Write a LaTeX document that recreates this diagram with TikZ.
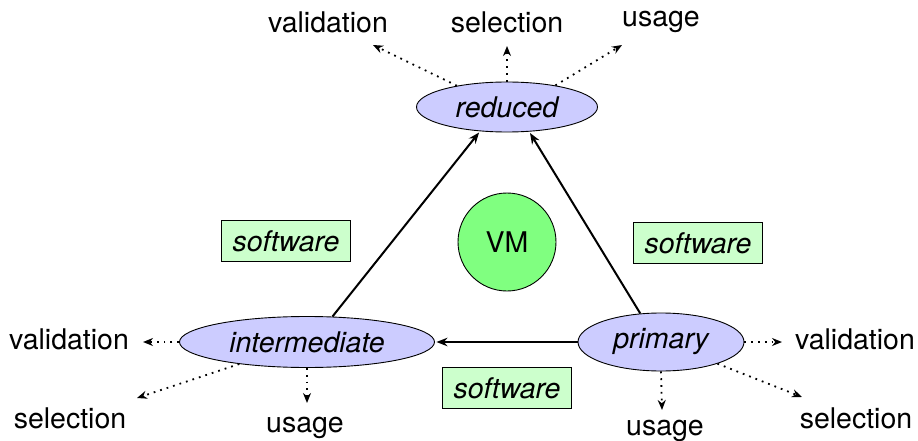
\documentclass[tikz,border=0pt]{standalone}
\usepackage{fontspec}
\setmainfont{TeX Gyre Heros}
\usetikzlibrary{shapes.geometric,arrows.meta}
\definecolor{stagefill}{RGB}{204,204,255}
\definecolor{toolfill}{RGB}{204,255,204}
\definecolor{vmfill}{RGB}{128,255,128}
\begin{document}
\begin{tikzpicture}[x=1pt,y=-1pt,
  txt/.style={font=\fontsize{28.5}{32}\selectfont},
  stage/.style={ellipse,draw,line width=0.9pt,fill=stagefill,inner sep=0pt,
    font=\fontsize{28.5}{32}\selectfont\itshape},
  tool/.style={rectangle,draw,line width=0.9pt,fill=toolfill,minimum width=129pt,
    minimum height=41pt,inner sep=0pt,font=\fontsize{28.5}{32}\selectfont\itshape},
  vm/.style={circle,draw,line width=0.9pt,fill=vmfill,minimum size=98pt,inner sep=0pt,
    font=\fontsize{28.5}{32}\selectfont},
  use/.style={txt,anchor=base,inner sep=0pt},
  flow/.style={line width=2pt,shorten >=1.5pt,-{Stealth[length=11pt,width=8.5pt]}},
  aux/.style={line width=1.8pt,dash pattern=on 1.8pt off 5pt,
    -{Stealth[length=10pt,width=8pt]}}]
\useasboundingbox (0,0) rectangle (918,441);

% the three stages
\node[stage,minimum width=181pt,minimum height=50pt] (red) at (507,107) {reduced};
\node[stage,minimum width=255pt,minimum height=51pt] (int) at (307,342) {intermediate};
\node[stage,minimum width=166pt,minimum height=58pt] (pri) at (661,342) {primary};

% centre and tools
\node[vm] (vm) at (507,242) {VM};
\node[tool] (swl) at (286,241) {software};
\node[tool] (swr) at (698,243) {software};
\node[tool] (swb) at (507,388) {software};

% main flow
\draw[flow] (int.45) -- (red.222);
\draw[flow] (pri.126) -- (red.-48);
\draw[flow] (pri.west) -- (int.east);

% uses of the reduced data
\node[use] (rv) at (328,33) {validation};
\node[use] (rs) at (507,33) {selection};
\node[use] (ru) at (661,27) {usage};
\coordinate (rvt) at (373,45);
\coordinate (rst) at (507,46);
\coordinate (rut) at (622,45);
\draw[aux] (red.157) -- (rvt);
\draw[aux] (red.90) -- (rst);
\draw[aux] (red.24) -- (rut);

% uses of the intermediate data
\node[use] (iv) at (69,349) {validation};
\node[use] (is) at (70,428) {selection};
\node[use] (iu) at (305,432) {usage};
\coordinate (ivt) at (143,342);
\coordinate (ist) at (137,398);
\coordinate (iut) at (307,403);
\draw[aux] (int.180) -- (ivt);
\draw[aux] (int.198) -- (ist);
\draw[aux] (int.270) -- (iut);

% uses of the primary data
\node[use] (pv) at (855,349) {validation};
\node[use] (ps) at (856,428) {selection};
\node[use] (pu) at (665,435) {usage};
\coordinate (pvt) at (782,342);
\coordinate (pst) at (802,397);
\coordinate (put) at (662,410);
\draw[aux] (pri.0) -- (pvt);
\draw[aux] (pri.-21) -- (pst);
\draw[aux] (pri.270) -- (put);
\end{tikzpicture}
\end{document}
